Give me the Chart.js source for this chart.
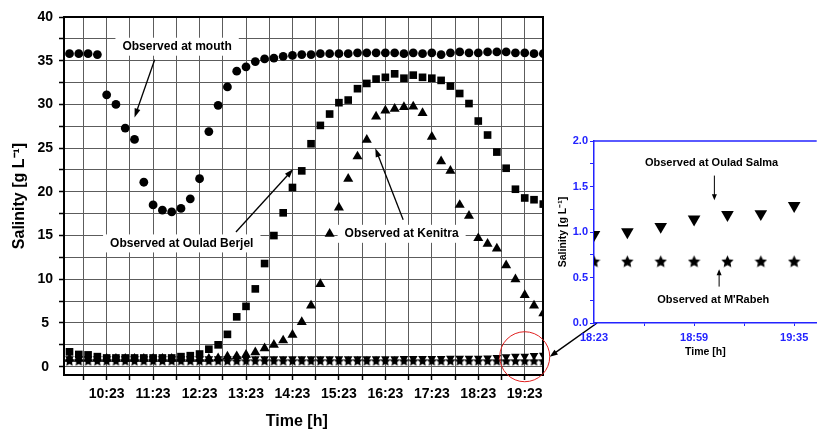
<!DOCTYPE html>
<html>
<head>
<meta charset="utf-8">
<script src="https://cdn.jsdelivr.net/npm/chart.js@4.4.0/dist/chart.umd.min.js"></script>
<style>
  html, body { margin: 0; padding: 0; background: #fff; overflow: hidden; }
  #wrap { position: relative; width: 824px; height: 430px; }
  #mainChart { position: absolute; left: 0; top: 0; }
  #insetChart { position: absolute; left: 548px; top: 120px; }
</style>
</head>
<body>
<div id="wrap">
  <canvas id="mainChart" width="824" height="430"></canvas>
  <canvas id="insetChart" width="276" height="250"></canvas>
</div>
<script>
// sampling times (every 12 min)
const times = ['09:35','09:47','09:59','10:11','10:23','10:35','10:47','10:59','11:11','11:23',
               '11:35','11:47','11:59','12:11','12:23','12:35','12:47','12:59','13:11','13:23',
               '13:35','13:47','13:59','14:11','14:23','14:35','14:47','14:59','15:11','15:23',
               '15:35','15:47','15:59','16:11','16:23','16:35','16:47','16:59','17:11','17:23',
               '17:35','17:47','17:59','18:11','18:23','18:35','18:47','18:59','19:11','19:23',
               '19:35','19:47'];

// salinity [g/L]
const mouth = [35.8, 35.8, 35.8, 35.7, 31.1, 30.0, 27.3, 26.0, 21.1, 18.5,
               17.9, 17.7, 18.1, 19.2, 21.5, 26.9, 29.9, 32.0, 33.8, 34.3,
               34.9, 35.2, 35.3, 35.5, 35.6, 35.7, 35.7, 35.8, 35.8, 35.8,
               35.8, 35.9, 35.9, 35.9, 35.9, 35.9, 35.8, 35.9, 35.8, 35.9,
               35.7, 35.9, 36.0, 35.9, 35.9, 36.0, 36.0, 36.0, 35.9, 35.9,
               35.8, 35.8];
const ouladBerjel = [1.7, 1.4, 1.35, 1.15, 1.0, 1.0, 1.0, 1.0, 1.0, 1.0,
                     1.0, 1.0, 1.15, 1.26, 1.45, 2.0, 2.5, 3.7, 5.7, 6.9,
                     8.9, 11.8, 15.0, 17.6, 20.5, 22.4, 25.5, 27.6, 28.9, 30.2,
                     30.5, 31.8, 32.4, 32.9, 33.1, 33.5, 33.0, 33.35, 33.1, 33.0,
                     32.75, 32.1, 31.25, 30.1, 28.1, 26.5, 24.55, 22.7, 20.3, 19.3,
                     19.1, 18.6];
const kenitra = [0.9, 0.9, 0.9, 0.9, 0.9, 0.9, 0.9, 0.9, 0.9, 0.9,
                 0.9, 0.9, 0.9, 0.9, 0.9, 0.9, 0.95, 1.15, 1.2, 1.35,
                 1.65, 2.1, 2.5, 3.0, 3.65, 5.1, 7.0, 9.45, 15.2, 18.2,
                 21.5, 24.05, 25.95, 28.6, 29.3, 29.5, 29.7, 29.75, 29.0, 26.3,
                 23.5, 22.4, 18.5, 17.25, 14.7, 14.05, 13.5, 11.6, 10.0, 8.2,
                 7.0, 6.1];
const ouladSalma = [0.9, 0.9, 0.9, 0.9, 0.9, 0.9, 0.9, 0.9, 0.9, 0.9,
                    0.9, 0.9, 0.9, 0.9, 0.9, 0.9, 0.9, 0.9, 0.9, 0.9,
                    0.9, 0.92, 0.92, 0.92, 0.92, 0.92, 0.92, 0.92, 0.92, 0.92,
                    0.92, 0.92, 0.92, 0.92, 0.92, 0.92, 0.94, 0.94, 0.95, 0.95,
                    0.95, 0.96, 0.96, 0.96, 0.97, 1.0, 1.06, 1.14, 1.19, 1.2,
                    1.29, 1.3];
const mRabeh = [0.68, 0.68, 0.68, 0.68, 0.68, 0.68, 0.68, 0.68, 0.68, 0.68,
                0.68, 0.68, 0.68, 0.68, 0.68, 0.68, 0.68, 0.68, 0.68, 0.68,
                0.68, 0.68, 0.68, 0.68, 0.68, 0.68, 0.68, 0.68, 0.68, 0.68,
                0.68, 0.68, 0.68, 0.68, 0.68, 0.68, 0.68, 0.68, 0.68, 0.68,
                0.68, 0.68, 0.68, 0.68, 0.68, 0.68, 0.68, 0.68, 0.68, 0.68,
                0.68, 0.68];

const xTickLabels = ['10:23','11:23','12:23','13:23','14:23','15:23','16:23','17:23','18:23','19:23'];
const yTickLabels = [0, 5, 10, 15, 20, 25, 30, 35, 40];
const insetXTickLabels = ['18:23','18:59','19:35'];
const insetYTickLabels = [0, 0.5, 1, 1.5, 2];

const INSET_LEFT = 548, INSET_TOP = 120;
const FONT = 'Arial, "Liberation Sans", sans-serif';
const BLUE = '#2323ff';

Chart.defaults.font.family = FONT;
Chart.defaults.color = '#000';

const toMin = s => { const [h, m] = s.split(':').map(Number); return h * 60 + m; };
const fmt = v => Math.floor(v / 60) + ':' + String(Math.round(v % 60)).padStart(2, '0');
const pts = vals => times.map((t, i) => ({x: toMin(t), y: vals[i]}));

function starImage(size) {
    const c = document.createElement('canvas');
    c.width = c.height = size;
    const g = c.getContext('2d');
    const R = size / 2, r = R * 0.48, cx = size / 2, cy = size / 2 + size * 0.06;
    g.beginPath();
    for (let k = 0; k < 10; k++) {
        const a = -Math.PI / 2 + k * Math.PI / 5;
        const rr = k % 2 ? r : R;
        g.lineTo(cx + rr * Math.cos(a), cy + rr * Math.sin(a));
    }
    g.closePath();
    g.fillStyle = '#000';
    g.fill();
    return c;
}

function arrow(ctx, x1, y1, x2, y2, head, half) {
    const a = Math.atan2(y2 - y1, x2 - x1);
    ctx.beginPath();
    ctx.moveTo(x1, y1);
    ctx.lineTo(x2 - Math.cos(a) * head * 0.7, y2 - Math.sin(a) * head * 0.7);
    ctx.stroke();
    ctx.beginPath();
    ctx.moveTo(x2, y2);
    ctx.lineTo(x2 - head * Math.cos(a) + half * Math.sin(a), y2 - head * Math.sin(a) - half * Math.cos(a));
    ctx.lineTo(x2 - head * Math.cos(a) - half * Math.sin(a), y2 - head * Math.sin(a) + half * Math.cos(a));
    ctx.closePath();
    ctx.fill();
}

// labels with arrows, placed in data units
const notesPlugin = {
    id: 'notes',
    beforeDatasetsDraw(chart, args, opts) {
        const {ctx, scales: {x, y}} = chart;
        ctx.save();
        ctx.font = opts.font;
        ctx.textAlign = 'center';
        ctx.textBaseline = 'middle';
        opts.items.forEach(n => {
            const px = x.getPixelForValue(n.at[0]), py = y.getPixelForValue(n.at[1]);
            if (opts.box) {
                const w = ctx.measureText(n.text).width;
                ctx.fillStyle = '#fff';
                ctx.fillRect(px - w / 2 - 7, py - 9, w + 14, 18);
            }
            ctx.fillStyle = '#000';
            ctx.fillText(n.text, px, py);
            ctx.strokeStyle = '#000';
            ctx.lineWidth = opts.lineWidth;
            arrow(ctx, x.getPixelForValue(n.from[0]), y.getPixelForValue(n.from[1]),
                  x.getPixelForValue(n.to[0]), y.getPixelForValue(n.to[1]), opts.head, opts.half);
        });
        ctx.restore();
    }
};

const framePlugin = {
    id: 'frame',
    afterDatasetsDraw(chart, args, opts) {
        const {ctx, chartArea: a} = chart;
        ctx.save();
        ctx.strokeStyle = opts.color;
        ctx.lineWidth = opts.width;
        ctx.beginPath();
        ctx.moveTo(a.left, a.top);
        ctx.lineTo(a.right, a.top);
        if (opts.right) ctx.lineTo(a.right, a.bottom);
        ctx.stroke();
        ctx.restore();
    }
};

// ---------- inset (zoom on 18:23 - 19:35) ----------
const insetChart = new Chart(document.getElementById('insetChart'), {
    type: 'scatter',
    data: {
        datasets: [{
            label: 'Observed at Oulad Salma',
            data: pts(ouladSalma),
            pointStyle: 'triangle',
            pointRotation: 180,
            pointRadius: 7.3,
            backgroundColor: '#000',
            borderColor: '#000',
            borderWidth: 0,
            clip: 0
        }, {
            label: "Observed at M'Rabeh",
            data: pts(mRabeh),
            pointStyle: starImage(13),
            pointRadius: 6,
            clip: 0
        }]
    },
    options: {
        responsive: false,
        animation: false,
        events: [],
        layout: { padding: { top: 21, right: 0, bottom: 0, left: 0 } },
        plugins: {
            legend: { display: false },
            tooltip: { enabled: false },
            frame: { color: BLUE, width: 1.5, right: false },
            notes: {
                font: 'bold 11px ' + FONT,
                box: false, lineWidth: 1, head: 6, half: 2.5,
                items: [
                    {text: 'Observed at Oulad Salma', at: [1145.3, 1.76], from: [1146.3, 1.62], to: [1146.3, 1.35]},
                    {text: "Observed at M'Rabeh", at: [1145.9, 0.25], from: [1148, 0.40], to: [1148, 0.59]}
                ]
            }
        },
        scales: {
            x: {
                type: 'linear',
                min: toMin('18:23'),
                max: toMin('18:23') + 80.1,
                afterFit: s => { s.height = 47; },
                afterBuildTicks: s => {
                    const major = insetXTickLabels.map(toMin);
                    const minor = major.map(v => v + 18).filter(v => v < s.max);
                    s.ticks = [...major, ...minor].sort((a, b) => a - b).map(v => ({value: v}));
                },
                grid: { drawOnChartArea: false, drawTicks: true, tickLength: 3, tickColor: BLUE, color: BLUE },
                border: { color: BLUE, width: 1.5 },
                ticks: {
                    autoSkip: false, maxRotation: 0, padding: 5, color: BLUE,
                    font: { size: 11, weight: 'bold' },
                    callback: v => insetXTickLabels.includes(fmt(v)) ? fmt(v) : ''
                },
                title: { display: true, text: 'Time [h]', color: '#000',
                         font: { size: 10.5, weight: 'bold', lineHeight: 1 }, padding: { top: 0, bottom: 13 } }
            },
            y: {
                type: 'linear',
                min: 0,
                max: 2,
                afterFit: s => { s.width = 46; },
                afterBuildTicks: s => {
                    s.ticks = insetYTickLabels.flatMap(v => v < 2 ? [v, v + 0.25] : [v]).map(v => ({value: v}));
                },
                grid: { drawOnChartArea: false, drawTicks: true, tickLength: 4, tickColor: BLUE, color: BLUE },
                border: { color: BLUE, width: 1.5 },
                ticks: {
                    autoSkip: false, padding: 2, color: BLUE,
                    font: { size: 11, weight: 'bold' },
                    callback: v => insetYTickLabels.includes(v) ? v.toFixed(1) : ''
                },
                title: { display: true, text: 'Salinity [g L⁻¹]', color: '#000',
                         font: { size: 10.5, weight: 'bold', lineHeight: 1 }, padding: { top: 10, bottom: 0 } }
            }
        }
    },
    plugins: [notesPlugin, framePlugin]
});

// red circle and connector toward the inset
const zoomMarkPlugin = {
    id: 'zoomMark',
    afterDraw(chart) {
        const {ctx, scales: {x, y}} = chart;
        const cx = x.getPixelForValue(toMin('19:23')), cy = y.getPixelForValue(1.14), r = 25;
        ctx.save();
        ctx.strokeStyle = '#e02020';
        ctx.lineWidth = 1;
        ctx.beginPath();
        ctx.arc(cx, cy, r, 0, Math.PI * 2);
        ctx.stroke();
        const ia = insetChart.chartArea;
        ctx.strokeStyle = '#000';
        ctx.fillStyle = '#000';
        ctx.lineWidth = 1.5;
        arrow(ctx, INSET_LEFT + ia.left + 3, INSET_TOP + ia.bottom, cx + r, cy, 8, 3);
        ctx.restore();
    }
};

// ---------- main chart ----------
new Chart(document.getElementById('mainChart'), {
    type: 'scatter',
    data: {
        datasets: [{
            label: 'Observed at mouth',
            data: pts(mouth),
            pointStyle: 'circle',
            pointRadius: 4.4,
            backgroundColor: '#000', borderColor: '#000', borderWidth: 0,
            clip: 0
        }, {
            label: 'Observed at Oulad Berjel',
            data: pts(ouladBerjel),
            pointStyle: 'rect',
            pointRadius: 5.4,
            backgroundColor: '#000', borderColor: '#000', borderWidth: 0,
            clip: 0
        }, {
            label: 'Observed at Kenitra',
            data: pts(kenitra),
            pointStyle: 'triangle',
            pointRadius: 5.8,
            backgroundColor: '#000', borderColor: '#000', borderWidth: 0,
            clip: 0
        }, {
            label: 'Observed at Oulad Salma',
            data: pts(ouladSalma),
            pointStyle: 'triangle',
            pointRotation: 180,
            pointRadius: 5,
            backgroundColor: '#000', borderColor: '#000', borderWidth: 0,
            clip: 0
        }, {
            label: "Observed at M'Rabeh",
            data: pts(mRabeh),
            pointStyle: starImage(11),
            pointRadius: 5,
            clip: 0
        }]
    },
    options: {
        responsive: false,
        animation: false,
        events: [],
        layout: { padding: { top: 17, right: 281, bottom: 0, left: 0 } },
        plugins: {
            legend: { display: false },
            tooltip: { enabled: false },
            frame: { color: '#000', width: 2, right: true },
            notes: {
                font: 'bold 12px ' + FONT,
                box: true, lineWidth: 1.3, head: 9, half: 3,
                items: [
                    {text: 'Observed at mouth', at: [714, 36.6], from: [685, 35.1], to: [659, 28.5]},
                    {text: 'Observed at Oulad Berjel', at: [720, 14.1], from: [790, 15.4], to: [864, 22.6]},
                    {text: 'Observed at Kenitra', at: [1004, 15.2], from: [1006, 16.8], to: [970, 25.0]}
                ]
            }
        },
        scales: {
            x: {
                type: 'linear',
                min: 567.9,
                max: 1186.6,
                afterFit: s => { s.height = 55; },
                afterBuildTicks: s => {
                    const major = xTickLabels.map(toMin);
                    const minor = major.map(v => v - 30);
                    s.ticks = [...major, ...minor].sort((a, b) => a - b).map(v => ({value: v}));
                },
                grid: { color: '#5c5c5c', lineWidth: 1, drawTicks: true, tickLength: 5, tickColor: '#000', tickWidth: 1.5 },
                border: { color: '#000', width: 2 },
                ticks: {
                    autoSkip: false, maxRotation: 0, padding: 6,
                    font: { size: 14, weight: 'bold' },
                    callback: v => xTickLabels.includes(fmt(v)) ? fmt(v) : ''
                },
                title: { display: true, text: 'Time [h]   ',
                         font: { size: 16, weight: 'bold', lineHeight: 1 }, padding: { top: 0, bottom: 0 } }
            },
            y: {
                type: 'linear',
                min: -0.95,
                max: 40,
                afterFit: s => { s.width = 64; },
                afterBuildTicks: s => {
                    s.ticks = yTickLabels.flatMap(v => v < 40 ? [v, v + 2.5] : [v]).map(v => ({value: v}));
                },
                grid: { color: '#5c5c5c', lineWidth: 1, drawTicks: true, tickLength: 5, tickColor: '#000', tickWidth: 1.5 },
                border: { color: '#000', width: 2 },
                ticks: {
                    autoSkip: false, padding: 6, crossAlign: 'center',
                    font: { size: 14, weight: 'bold' },
                    callback: v => yTickLabels.includes(v) ? v : ''
                },
                title: { display: true, text: 'Salinity [g L⁻¹]',
                         font: { size: 16, weight: 'bold', lineHeight: 1 }, padding: { top: 12, bottom: 0 } }
            }
        }
    },
    plugins: [notesPlugin, framePlugin, zoomMarkPlugin]
});
</script>
</body>
</html>
